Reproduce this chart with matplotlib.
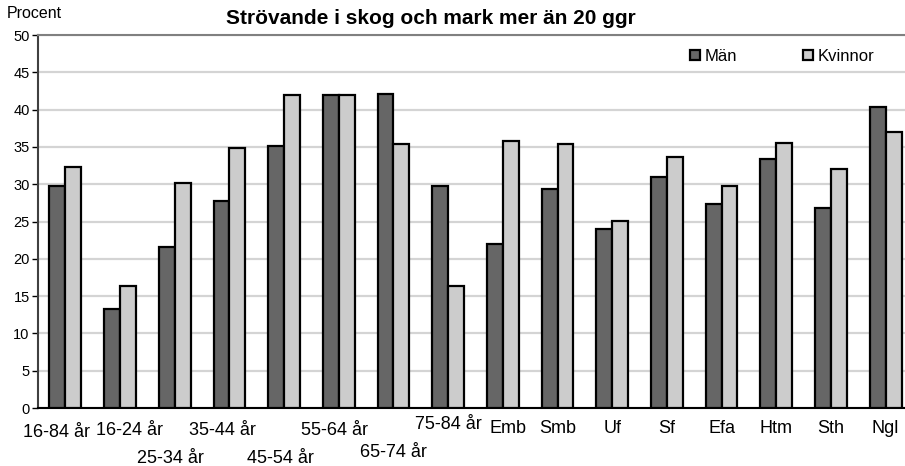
import matplotlib.pyplot as plt
import numpy as np
from matplotlib.transforms import blended_transform_factory

plt.rcParams['font.family'] = ['Liberation Sans', 'DejaVu Sans']

categories = ['16-84 år', '16-24 år', '25-34 år', '35-44 år', '45-54 år', '55-64 år',
              '65-74 år', '75-84 år', 'Emb', 'Smb', 'Uf', 'Sf', 'Efa', 'Htm', 'Sth', 'Ngl']
man = [29.7, 13.3, 21.6, 27.7, 35.1, 41.9, 42.1, 29.8,
       22.0, 29.3, 24.0, 31.0, 27.4, 33.4, 26.8, 40.4]
kvinnor = [32.3, 16.3, 30.1, 34.9, 42.0, 41.9, 35.4, 16.4,
           35.8, 35.4, 25.1, 33.6, 29.8, 35.5, 32.0, 37.0]

# staggered category labels: x shift (in groups) and baseline (figure pixels)
label_dx = [-0.17, 0.18, -0.07, -0.12, -0.06, -0.07, 0, 0, 0.09, 0, 0, 0, 0, 0, 0, 0]
label_base = [437, 435, 463, 435, 463, 435, 457, 429, 433, 433, 433, 433, 433, 433, 433, 433]

W, H = 905, 466
fig = plt.figure(figsize=(W / 100, H / 100), dpi=100)
ax = fig.add_axes([38 / W, 1 - 408 / H, (913 - 38) / W, (408 - 35) / H])

x = np.arange(len(categories))
bw = 0.29
ax.bar(x - bw / 2, man, bw, color='#666666', edgecolor='black', linewidth=1.6, label='Män', zorder=3)
ax.bar(x + bw / 2, kvinnor, bw, color='#cccccc', edgecolor='black', linewidth=1.6, label='Kvinnor', zorder=3)

ax.set_xlim(-0.5, len(categories) - 0.5)
ax.set_ylim(0, 50)
ax.set_yticks(range(0, 51, 5))
ax.yaxis.grid(True, color='#d4d4d4', linewidth=1.6, zorder=0)
ax.set_axisbelow(True)
ax.tick_params(axis='y', labelsize=10.5, length=4, width=1, pad=2, colors='black')
ax.set_xticks([])
ax.spines['right'].set_visible(False)
ax.spines['top'].set_color('#808080')
ax.spines['top'].set_linewidth(1.5)
ax.spines['left'].set_color('#404040')
ax.spines['left'].set_linewidth(1.5)
ax.spines['bottom'].set_linewidth(1.5)

trans = blended_transform_factory(ax.transData, fig.transFigure)
for i, lab in enumerate(categories):
    ax.text(x[i] + label_dx[i], 1 - label_base[i] / H, lab, transform=trans,
            ha='center', va='baseline', fontsize=13, clip_on=False)

fig.text(7 / W, 1 - 18 / H, 'Procent', fontsize=11.5, ha='left', va='baseline')
fig.text(431 / W, 1 - 24 / H, 'Strövande i skog och mark mer än 20 ggr',
         fontsize=15, fontweight='bold', ha='center', va='baseline')

ax.legend(loc='upper left', bbox_to_anchor=(690 / W, 1 - 49 / H), bbox_transform=fig.transFigure,
          ncol=2, frameon=False, fontsize=12, handlelength=0.6, handleheight=0.6,
          handletextpad=0.25, columnspacing=4.0, borderaxespad=0, borderpad=0)

fig.savefig('out.png', dpi=100)
